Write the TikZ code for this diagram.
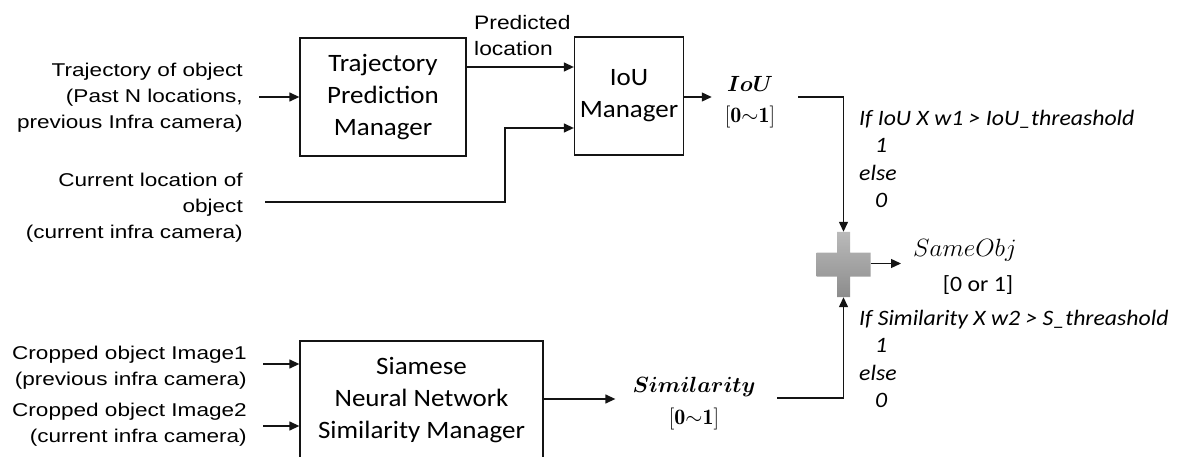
\RequirePackage{fix-cm}
\documentclass[tikz,border=0pt]{standalone}
\usepackage{fontspec}
\usepackage{bm}
\newfontfamily\gul[FakeStretch=1.22]{Liberation Sans}
\newfontfamily\gulp[FakeStretch=1.17]{Liberation Sans}
\newfontfamily\carl[FakeStretch=1.08]{Carlito}
\usetikzlibrary{arrows.meta,calc}
\definecolor{crosstop}{RGB}{186,186,186}
\definecolor{crossbot}{RGB}{140,140,140}
\definecolor{ink}{RGB}{20,20,20}

\begin{document}
\begin{tikzpicture}[x=1pt,y=-1pt,
  box/.style={draw=ink,line width=1.3pt,inner sep=0pt,align=center,
    font=\carl\fontsize{25}{32}\selectfont},
  lab/.style={inner sep=0pt,align=right,anchor=east,
    font=\gul\fontsize{18.5}{26}\selectfont},
  arr/.style={draw=ink,line width=1.3pt,-{Triangle[length=10pt,width=9pt]}},
  cond/.style={inner sep=0pt,align=left,anchor=north west,
    font=\carl\itshape\fontsize{22}{27.5}\selectfont},
  res/.style={inner sep=0pt,align=center,font=\fontsize{22}{31}\selectfont}]
\useasboundingbox (0,0) rectangle (1178,457);

% processing blocks
\node[box,minimum width=166pt,minimum height=118pt] (tpm) at (383,97)
  {Trajectory\\Prediction\\Manager};
\node[box,minimum width=109pt,minimum height=118pt] (iou) at (629,96)
  {IoU\\Manager};
\node[box,minimum width=243pt,minimum height=118pt] (sia) at (421.5,400)
  {Siamese\\Neural Network\\Similarity Manager};

% inputs
\node[lab] (traj) at (243,98)
  {Trajectory of object\\(Past N locations,\\previous Infra camera)};
\node[lab] (cur) at (243,208)
  {Current location of\\object\\(current infra camera)};
\node[lab] (img1) at (247,368)
  {Cropped object Image1\\(previous infra camera)};
\node[lab] (img2) at (247,425)
  {Cropped object Image2\\(current infra camera)};
\node[inner sep=0pt,align=left,anchor=north west,
  font=\gulp\fontsize{19.5}{26}\selectfont] (pred) at (474,15)
  {Predicted\\location};

% intermediate scores and result
\node[res] (ioul) at (750,102) {$\bm{IoU}$\\$[\mathbf{0}{\sim}\mathbf{1}]$};
\node[res,font=\fontsize{22}{32}\selectfont] (siml) at (694,404)
  {$\bm{Similarity}$\\$[\mathbf{0}{\sim}\mathbf{1}]$};
\node[inner sep=0pt,anchor=base west,font=\fontsize{25}{30}\selectfont] (same)
  at (913,257) {$SameObj$};
\node[inner sep=0pt,anchor=base,font=\carl\fontsize{22}{26}\selectfont] (sor)
  at (978,291) {[0 or 1]};

% decision rules
\node[cond] (c1) at (859,110)
  {If IoU X w1 > IoU\_threashold\\\hspace*{16pt}1\\else\\\hspace*{16pt}0};
\node[cond] (c2) at (859,310)
  {If Similarity X w2 > S\_threashold\\\hspace*{16pt}1\\else\\\hspace*{16pt}0};

% combining cross
\node[inner sep=0pt,minimum width=54pt,minimum height=65pt] (sum) at (843.5,264.5) {};
\shade[shift={(sum.center)},top color=crosstop,bottom color=crossbot]
  (-6.5,-32.5) -- (6.5,-32.5) -- (6.5,-12) -- (27,-12) -- (27,12)
  -- (6.5,12) -- (6.5,32.5) -- (-6.5,32.5) -- (-6.5,12) -- (-27,12)
  -- (-27,-12) -- (-6.5,-12) -- cycle;

% connectors
\coordinate (jog) at (505,202);
\coordinate (iouout) at (798,97);
\coordinate (simout) at (777,398);
\draw[arr] ([xshift=16pt]traj.east |- tpm.west) -- (tpm.west);
\draw[arr] ([yshift=30pt]tpm.east) -- ([yshift=30pt]tpm.east -| iou.west);
\draw[arr] ([xshift=22pt]cur.east |- jog) -- (jog) |- ([yshift=-32pt]iou.west);
\draw[arr] ([yshift=-1pt]iou.east) -- ([xshift=-13pt,yshift=-1pt]ioul.west |- iou.east);
\draw[arr] ([xshift=16pt,yshift=4pt]img1.east) -- ([yshift=4pt]img1.east -| sia.west);
\draw[arr] ([xshift=16pt,yshift=-1pt]img2.east) -- ([yshift=-1pt]img2.east -| sia.west);
\draw[arr] ([yshift=1pt]sia.east) -- ([xshift=-17pt,yshift=1pt]siml.west |- sia.east);
\draw[arr] (iouout) -| (sum.north);
\draw[arr] (simout) -| (sum.south);
\draw[arr] ([yshift=1pt]sum.east) -- ([xshift=-12pt,yshift=1pt]same.west |- sum.east);
\end{tikzpicture}
\end{document}
